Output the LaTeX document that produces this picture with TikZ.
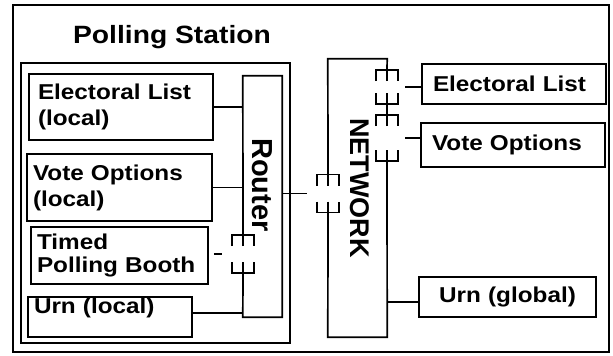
\documentclass[tikz,border=0pt]{standalone}
\usepackage{fontspec}
\setmainfont{Liberation Sans}
\newfontfamily\widefont{Liberation Sans}[FakeStretch=1.13]

\begin{document}
\begin{tikzpicture}[x=1pt,y=-1pt,
		every node/.style={inner sep=0pt},
		box/.style={
			draw,
			line width=1.8pt,
			align=left,
			inner xsep=6pt,
			font=\widefont\bfseries\fontsize{21.5}{26}\selectfont
		},
		vtext/.style={rotate=-90, font=\bfseries\fontsize{29}{30}\selectfont},
		edge/.style={line width=1.7pt},
		wire/.style={line width=1.5pt},
		pics/plugpair/.style={code={
				\draw[wire] (-11,{-#1}) -- (-11,{-#1-11}) -- (11,{-#1-11}) -- (11,{-#1}) (0,{-#1}) -- (0,{-#1-11});
				\draw[wire] (-11,#1) -- (-11,#1+11) -- (11,#1+11) -- (11,#1) (0,#1) -- (0,#1+11);
				\coordinate (-top) at (0,{-#1-11});
				\coordinate (-bot) at (0,#1+11);
				\coordinate (-w) at (-21,0);
				\coordinate (-e) at (18,0);
		}}
		]
		
		\useasboundingbox (0,0) rectangle (613,356);
		\draw[line width=1.4pt] (13,5) rectangle (609,352);
		
		\node[draw, line width=2pt, minimum width=269pt, minimum height=280pt] (station) at (155.5,203) {};
		\node[anchor=base, font=\widefont\bfseries\fontsize{25}{30}\selectfont] (title) at (172,43) {Polling Station};
		
		\node[box, minimum width=184pt, minimum height=66pt, text width=166pt, inner xsep=9pt] (elist) at (121,107)
		{Electoral List\\(local)};
		\node[box, minimum width=185pt, minimum height=67pt, text width=173pt] (vopt) at (119.5,187.5)
		{Vote Options\\(local)};
		\node[box, minimum width=177pt, minimum height=57pt, text width=165pt] (booth) at (119.5,255.5)
		{Timed\\[-3pt]Polling Booth};
		\node[box, minimum width=164pt, text width=152pt, text height=16pt, text depth=24pt] (urnl) at (110,317)
		{Urn (local)};
		
		\node[minimum width=39pt, minimum height=241pt] (router) at (262.5,196.5) {};
		\node[vtext] (routerlbl) at (262,185) {Router};
		
		\node[minimum width=59pt, minimum height=278pt] (network) at (357.5,198) {};
		\node[vtext, font=\bfseries\fontsize{27}{30}\selectfont] (netlbl) at (360,188) {NETWORK};
		
		\node[box, minimum width=184pt, minimum height=40pt, text width=162pt, inner xsep=11pt] (gelist) at (514,84)
		{Electoral List};
		\node[box, minimum width=184pt, minimum height=44pt, text width=162pt, inner xsep=11pt] (gvopt) at (513,145)
		{Vote Options};
		\node[box, minimum width=177pt, minimum height=40pt, text width=165pt, align=center] (gurn) at (507.5,297)
		{Urn (global)};
		
		\pic (rs) at (243,254) {plugpair=8};
		\pic (ns) at (328,193.5) {plugpair=8};
		\pic (ne1) at (387,87) {plugpair=6};
		\pic (ne2) at (387,138) {plugpair=12};
		
		\draw[edge] (rs-top) -- (router.north west) -- (router.north east) -- (router.south east) -- (router.south west) -- (rs-bot);
		\draw[edge] (ns-top) -- (network.north west) -- (network.north east) -- (ne1-top)
		(ne1-bot) -- (ne2-top)
		(ne2-bot) -- (network.south east) -- (network.south west) -- (ns-bot);
		
		\draw[wire] (elist.east) -- (elist.east -| router.west);
		\draw[wire] (vopt.east) -- (vopt.east -| router.west);
		\draw[wire,shorten <=5pt] (booth.east |- rs-w) -- (rs-w);
		\draw[wire] ([yshift=4pt]urnl.east) -- ([yshift=4pt]urnl.east -| router.west);
		\draw[wire] (router.east |- ns-w) -- (ns-w);
		\draw[wire] (ne1-e) -- (ne1-e -| gelist.west);
		\draw[wire] (ne2-e) -- (ne2-e -| gvopt.west);
		\draw[wire] ([yshift=-5pt]gurn.west -| network.east) -- ([yshift=-5pt]gurn.west);
		
	\end{tikzpicture}
\end{document}
